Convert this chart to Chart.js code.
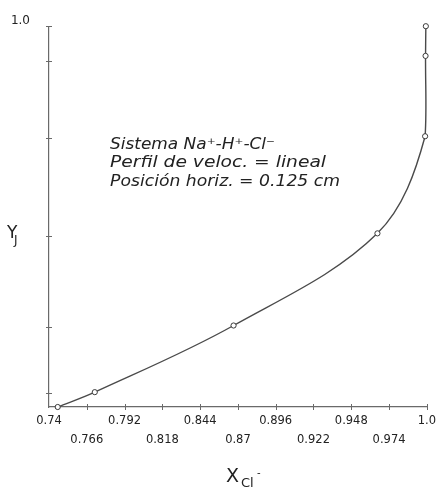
<!DOCTYPE html>
<html>
<head>
<meta charset="utf-8">
<script src="https://cdn.jsdelivr.net/npm/chart.js@4.4.1/dist/chart.umd.min.js"></script>
<style>
  html, body { margin: 0; padding: 0; background: #ffffff; }
  #wrap { width: 441px; height: 489px; }
</style>
</head>
<body>
<div id="wrap"><canvas id="c" width="441" height="489"></canvas></div>
<script>
// Mole fraction of Cl- in the liquid vs. Y_J
const xCl = [0.746, 0.7715, 0.867, 0.966, 0.9988, 0.9991, 0.9993];
const yJ  = [0.0, 0.039, 0.214, 0.456, 0.711, 0.922, 1.0];

const xTickValues = [0.74, 0.766, 0.792, 0.818, 0.844, 0.87, 0.896, 0.922, 0.948, 0.974, 1.0];
const xTickLabels = ['0.74', '0.766', '0.792', '0.818', '0.844', '0.87', '0.896', '0.922', '0.948', '0.974', '1.0'];
const yTickValues = [0.036, 0.211, 0.448, 0.706, 0.909, 1.0];
const yTickLabels = ['', '', '', '', '', '1.0'];

const noteLines = ['Sistema Na⁺-H⁺-Cl⁻', 'Perfil de veloc. = lineal', 'Posición horiz. = 0.125 cm'];

const INK = '#222222';
const AXIS = '#6a6a6a';

const points = xCl.map((x, i) => ({ x: x, y: yJ[i] }));

// Small crosses on the axes, the note block and the axis titles
const decorations = {
  id: 'decorations',
  afterDraw(chart) {
    const ctx = chart.ctx;
    const xs = chart.scales.x, ys = chart.scales.y;
    const area = chart.chartArea;
    ctx.save();
    ctx.strokeStyle = AXIS;
    ctx.lineWidth = 1;
    xs.ticks.forEach(t => {
      if (t.value === xTickValues[0]) return;
      const px = Math.round(xs.getPixelForValue(t.value)) + 0.5;
      ctx.beginPath();
      ctx.moveTo(px, area.bottom - 3);
      ctx.lineTo(px, area.bottom + 3);
      ctx.stroke();
    });
    ys.ticks.forEach(t => {
      const py = Math.round(ys.getPixelForValue(t.value)) + 0.5;
      ctx.beginPath();
      ctx.moveTo(area.left - 3, py);
      ctx.lineTo(area.left + 3, py);
      ctx.stroke();
    });

    // note block
    ctx.fillStyle = INK;
    ctx.font = 'oblique 16px "DejaVu Sans"';
    ctx.textBaseline = 'alphabetic';
    ctx.textAlign = 'left';
    const widths = [165, 216, 230];
    const baselines = [149, 167, 186];
    noteLines.forEach((s, i) => {
      const w = ctx.measureText(s).width;
      ctx.save();
      ctx.translate(110, baselines[i]);
      ctx.scale(widths[i] / w, 1);
      ctx.fillText(s, 0, 0);
      ctx.restore();
    });

    // y-axis title: Y with subscript J
    ctx.font = '17px "DejaVu Sans"';
    ctx.fillText('Y', 7, 238);
    ctx.font = '12px "DejaVu Sans"';
    ctx.fillText('J', 14, 244);

    // x-axis title: X with subscript Cl-
    ctx.font = '19px "DejaVu Sans"';
    ctx.fillText('X', 226, 482);
    ctx.font = '13px "DejaVu Sans"';
    ctx.fillText('Cl', 241, 487);
    ctx.font = '10px "DejaVu Sans"';
    ctx.fillText('-', 257, 476);
    ctx.restore();
  }
};

new Chart(document.getElementById('c'), {
  type: 'line',
  data: {
    datasets: [{
      data: points,
      borderColor: '#4a4a4a',
      borderWidth: 1.4,
      tension: 0.35,
      clip: false,
      pointRadius: 2.6,
      pointBackgroundColor: '#ffffff',
      pointBorderColor: '#3a3a3a',
      pointBorderWidth: 1,
      fill: false
    }]
  },
  options: {
    responsive: false,
    animation: false,
    layout: { padding: { top: 23, right: 13, left: 0, bottom: 0 } },
    plugins: { legend: { display: false }, tooltip: { enabled: false } },
    scales: {
      x: {
        type: 'linear',
        min: 0.74,
        max: 1.0,
        afterBuildTicks(scale) { scale.ticks = xTickValues.map(v => ({ value: v })); },
        afterFit(scale) { scale.height = 82; },
        grid: { display: false, drawTicks: false },
        border: { display: true, color: AXIS, width: 1.2 },
        ticks: {
          autoSkip: false,
          maxRotation: 0,
          padding: 5,
          color: INK,
          font: { family: 'DejaVu Sans', size: 11.5, lineHeight: 1.6 },
          callback(value, index) {
            const lbl = xTickLabels[index];
            return index % 2 === 0 ? lbl : ['', lbl];
          }
        }
      },
      y: {
        type: 'linear',
        min: 0,
        max: 1.0,
        afterBuildTicks(scale) { scale.ticks = yTickValues.map(v => ({ value: v })); },
        afterFit(scale) { scale.width = 49; },
        grid: { display: false, drawTicks: false },
        border: { display: true, color: AXIS, width: 1.2 },
        ticks: {
          autoSkip: false,
          padding: 19,
          labelOffset: -5,
          color: INK,
          font: { family: 'DejaVu Sans', size: 12 },
          callback(value, index) { return yTickLabels[index]; }
        }
      }
    }
  },
  plugins: [decorations]
});
</script>
</body>
</html>
